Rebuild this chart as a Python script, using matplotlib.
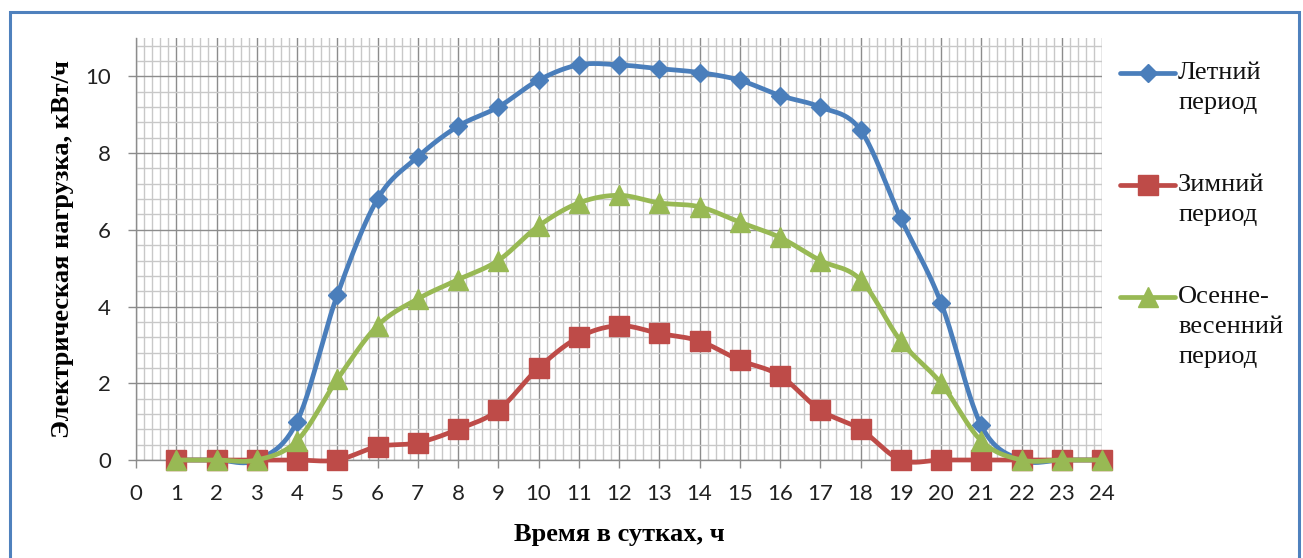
import numpy as np
import matplotlib
matplotlib.use("Agg")
import matplotlib.pyplot as plt
from matplotlib.lines import Line2D
from matplotlib.patches import Rectangle
from matplotlib.ticker import MultipleLocator

# Hours of the day
hours = list(range(1, 25))

# Electrical load, kW*h, per season
summer = [0, 0, 0, 1.0, 4.3, 6.8, 7.9, 8.7, 9.2, 9.9, 10.3, 10.3,
          10.2, 10.1, 9.9, 9.5, 9.2, 8.6, 6.3, 4.1, 0.9, 0, 0, 0]
winter = [0, 0, 0, 0, 0, 0.35, 0.45, 0.8, 1.3, 2.4, 3.2, 3.5,
          3.3, 3.1, 2.6, 2.2, 1.3, 0.8, 0, 0, 0, 0, 0, 0]
autumn_spring = [0, 0, 0, 0.5, 2.1, 3.5, 4.2, 4.7, 5.2, 6.1, 6.7, 6.9,
                 6.7, 6.6, 6.2, 5.8, 5.2, 4.7, 3.1, 2.0, 0.5, 0, 0, 0]

series_labels = [["Летний", "период"],
                 ["Зимний", "период"],
                 ["Осенне-", "весенний", "период"]]
colors = ["#4A7EBB", "#BE4B48", "#98B954"]
markers = ["D", "s", "^"]
msizes = [9.5, 14, 15]

x_label = "Время в сутках, ч"
y_label = "Электрическая нагрузка, кВт/ч"

W, H = 1303, 558


def smooth(xs, ys, n=24):
    """Cubic Bezier smoothing through the points (Catmull-Rom style)."""
    p = np.column_stack([xs, ys]).astype(float)
    pts = [p[0]]
    m = len(p)
    t = np.linspace(0, 1, n + 1)[1:, None]
    for i in range(m - 1):
        p0 = p[i - 1] if i > 0 else p[i]
        p1, p2 = p[i], p[i + 1]
        p3 = p[i + 2] if i + 2 < m else p[i + 1]
        c1 = p1 + (p2 - p0) / 6.0
        c2 = p2 - (p3 - p1) / 6.0
        seg = ((1 - t) ** 3) * p1 + 3 * ((1 - t) ** 2) * t * c1 \
            + 3 * (1 - t) * t ** 2 * c2 + t ** 3 * p2
        pts.extend(seg)
    pts = np.array(pts)
    return pts[:, 0], pts[:, 1]


fig = plt.figure(figsize=(W / 100, H / 100), dpi=100)
fig.patch.set_facecolor("white")

# plot area in pixels: x 136..1102, y 38..460
ax = fig.add_axes([136 / W, (H - 460) / H, (1102 - 136) / W, (460 - 38) / H])
ax.set_xlim(0, 24)
ax.set_ylim(0, 11)

ax.xaxis.set_major_locator(MultipleLocator(1))
ax.xaxis.set_minor_locator(MultipleLocator(0.2))
ax.yaxis.set_major_locator(MultipleLocator(2))
ax.yaxis.set_minor_locator(MultipleLocator(0.4))

ax.grid(which="minor", color="#C8C8C8", linewidth=1.0)
ax.grid(which="major", color="#8C8C8C", linewidth=1.0)
ax.set_axisbelow(True)

for s in ["top", "right"]:
    ax.spines[s].set_visible(False)
for s in ["left", "bottom"]:
    ax.spines[s].set_color("#8C8C8C")
    ax.spines[s].set_linewidth(1.0)

ax.tick_params(which="major", length=6, width=1.0, color="#8C8C8C",
               labelsize=16, labelcolor="#222222")
ax.tick_params(axis="x", which="major", pad=11)
ax.tick_params(axis="y", which="major", pad=12)
ax.tick_params(which="minor", length=0)
for lab in ax.get_xticklabels() + ax.get_yticklabels():
    lab.set_fontfamily("Lato")

for k, (vals, c, mk, ms) in enumerate(zip([summer, winter, autumn_spring],
                                          colors, markers, msizes)):
    sx, sy = smooth(hours, vals)
    ax.plot(sx, sy, color=c, linewidth=3.4, solid_capstyle="round",
            zorder=3 + 2 * k, clip_on=False)
    ax.plot(hours, vals, linestyle="none", marker=mk, markersize=ms,
            color=c, markeredgecolor=c, zorder=4 + 2 * k, clip_on=False)

fig.text(62 / W, 1 - 249 / H, y_label, rotation=90, ha="center", va="center",
         fontsize=19, fontweight="bold", family="Liberation Serif")
fig.text(619 / W, 1 - 535 / H, x_label, ha="center", va="center",
         fontsize=19, fontweight="bold", family="Liberation Serif")

# legend
legend_rows = [73, 185, 297]
for row, labels, c, mk, ms in zip(legend_rows, series_labels, colors,
                                   markers, msizes):
    yf = 1 - row / H
    fig.add_artist(Line2D([1120 / W, 1175 / W], [yf, yf], color=c,
                          linewidth=3.4, solid_capstyle="round",
                          transform=fig.transFigure))
    fig.add_artist(Line2D([1147.5 / W], [yf], marker=mk, markersize=ms,
                          color=c, linestyle="none",
                          transform=fig.transFigure))
    for j, txt in enumerate(labels):
        fig.text(1178 / W, 1 - (row + 30 * j) / H, txt, ha="left",
                 va="center", fontsize=19, family="Liberation Serif",
                 color="#111111")

# outer frame
fig.add_artist(Rectangle((10 / W, -0.05), (1299 - 10) / W, 1.05 - 12 / H,
                         fill=False, edgecolor="#4F81BD", linewidth=2.2,
                         transform=fig.transFigure))

fig.savefig("out.png", dpi=100)
